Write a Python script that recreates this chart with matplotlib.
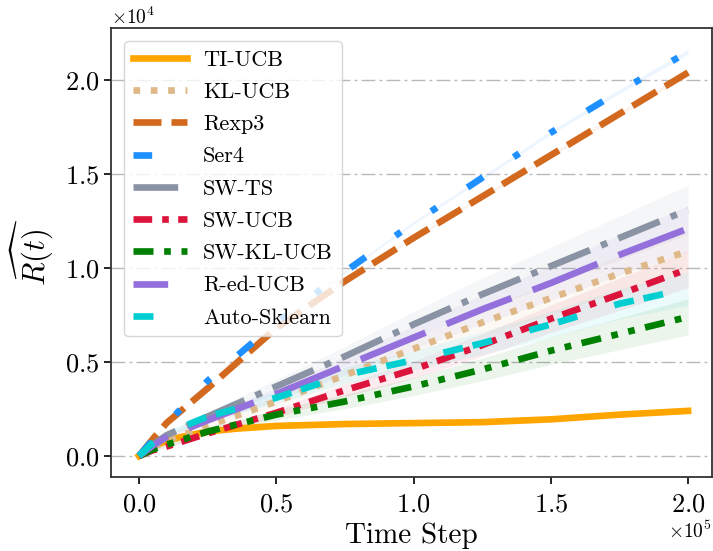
'''Cumulative regret of the bandit baselines over time'''
import matplotlib
matplotlib.use('Agg')
import matplotlib.pyplot as plt
import numpy as np

plt.rcParams['font.family'] = 'serif'
plt.rcParams['font.serif'] = ['cmr10', 'DejaVu Serif']
plt.rcParams['mathtext.fontset'] = 'cm'
plt.rcParams['axes.formatter.use_mathtext'] = True
plt.rcParams['axes.unicode_minus'] = False

# time steps shared by most methods
steps = [0, 5000, 10000, 25000, 50000, 75000, 100000, 125000, 150000, 175000, 200000]
# TI-UCB is read on a finer grid (it bends early)
steps_ti = [0, 5000, 10000, 15000, 25000, 35000, 50000, 75000, 100000, 125000, 150000, 160000, 175000, 200000]

ti_ucb = [0, 500, 800, 1000, 1300, 1450, 1600, 1700, 1750, 1800, 1950, 2050, 2200, 2400]
kl_ucb = [0, 450, 800, 1600, 2900, 4300, 5700, 7100, 8400, 9700, 10900]
rexp3 = [0, 900, 1750, 3600, 6800, 9300, 11600, 13800, 16000, 18200, 20400]
ser4 = [0, 850, 1700, 4000, 7100, 9800, 12400, 14800, 17200, 19400, 21500]
sw_ts = [0, 600, 1100, 2100, 3700, 5300, 7000, 8600, 10100, 11600, 13100]
sw_ucb = [0, 300, 500, 1200, 2300, 3500, 4600, 5900, 7300, 8600, 9950]
sw_kl_ucb = [0, 350, 600, 1300, 2200, 2900, 3700, 4600, 5600, 6500, 7400]
red_ucb = [0, 550, 1000, 1900, 3300, 4800, 6300, 7800, 9200, 10700, 12100]
auto_sklearn = [0, 700, 1200, 2100, 3100, 4300, 5100, 6000, 7000, 8100, 8900]

labels = ['TI-UCB', 'KL-UCB', 'Rexp3', 'Ser4', 'SW-TS', 'SW-UCB', 'SW-KL-UCB', 'R-ed-UCB', 'Auto-Sklearn']
# relative half width of the shaded band around each mean
spread = [0.03, 0.10, 0.006, 0.006, 0.10, 0.10, 0.13, 0.10, 0.10]

colors = ['#FFA500', '#DEB887', '#D2691E', '#1E90FF', '#8A93A3', '#DC143C', '#008000', '#9370DB', '#00CED1']
styles = ['-',
          (0, (1, 1.6)),
          (0, (4.2, 1.5)),
          (0, (2.8, 5.5, 1, 5.5, 1, 5.5)),
          (0, (6.7, 1.8, 1, 1.8)),
          (0, (2.8, 1.5, 1, 1.4)),
          (0, (3, 1.6, 1, 1.6, 1, 1.6)),
          (5.3, (10.5, 3.4)),
          (0, (3, 5.8, 3, 1.5))]

series = [(steps_ti, ti_ucb), (steps, kl_ucb), (steps, rexp3), (steps, ser4), (steps, sw_ts),
          (steps, sw_ucb), (steps, sw_kl_ucb), (steps, red_ucb), (steps, auto_sklearn)]

fig = plt.figure(figsize=(7.13, 5.51), dpi=100)
ax = fig.add_axes([111 / 713, 74 / 551, 601 / 713, 449 / 551])

for (t, v), lab, c, ls, s in zip(series, labels, colors, styles, spread):
    t = np.array(t)
    v = np.array(v, dtype=float)
    ax.fill_between(t, v * (1 - s), v * (1 + s), color=c, alpha=0.08, linewidth=0)
    ax.plot(t, v, color=c, linestyle=ls, linewidth=4.8, label=lab)

ax.set_xlim(-10200, 208700)
ax.set_ylim(-1117, 22766)
ax.set_xticks([0, 50000, 100000, 150000, 200000])
ax.set_yticks([0, 5000, 10000, 15000, 20000])
ax.ticklabel_format(style='sci', axis='both', scilimits=(0, 0))
ax.tick_params(labelsize=19, length=5, width=1.2)
ax.tick_params(axis='x', pad=6)
ax.xaxis.get_offset_text().set_fontsize(14)
ax.yaxis.get_offset_text().set_fontsize(14)

ax.yaxis.grid(True, color='#b8b8b8', linestyle=(0, (10, 3, 2, 3)), linewidth=1.0)
ax.set_axisbelow(True)
for sp in ax.spines.values():
    sp.set_linewidth(1.3)
    sp.set_color('#333333')

ax.set_xlabel('Time Step', fontsize=21, labelpad=5)
ax.set_ylabel(r'$\widehat{R(t)}$', fontsize=22, labelpad=6)

ax.legend(loc='upper left', fontsize=16, handlelength=2.4, handletextpad=0.75,
          labelspacing=0.57, borderaxespad=0.6, framealpha=0.8)

fig.savefig('out.png', dpi=100)
